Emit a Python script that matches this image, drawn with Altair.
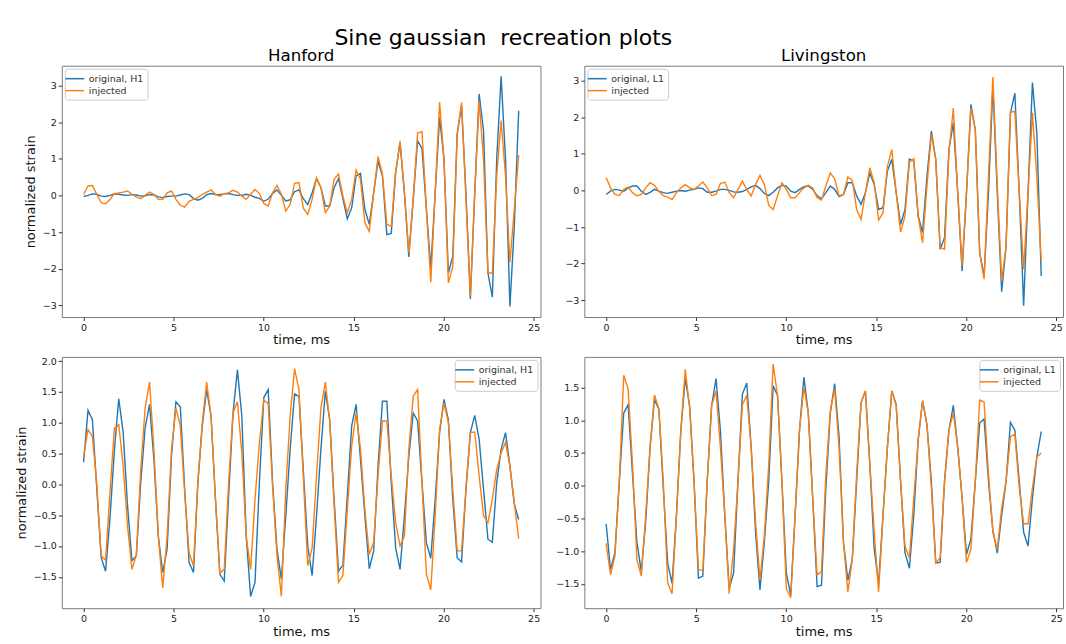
import altair as alt
import pandas as pd

# sample times (4096 Hz sampling, 100 samples) in ms
time_ms = [round(i * 1000.0 / 4096.0, 4) for i in range(100)]

# ---- Hanford, top panel ----
h1_top_orig = [
    -0.03, 0.0, 0.04, 0.03, -0.02, -0.03, 0.0, 0.04, 0.03, 0.01,
    0.0, 0.02, 0.01, -0.02, -0.01, 0.02, 0.01, -0.04, -0.06, -0.03,
    -0.02, -0.02, 0.01, 0.04, 0.02, -0.08, -0.13, -0.08, 0.02, 0.05,
    0.02, 0.02, 0.04, 0.05, 0.02, 0.0, 0.0, 0.03, 0.0, -0.05,
    -0.08, -0.16, -0.1, 0.05, 0.15, 0.0, -0.15, -0.12, 0.1, 0.15,
    -0.09, -0.25, 0.07, 0.46, 0.21, -0.29, -0.29, 0.21, 0.46, -0.09,
    -0.64, -0.34, 0.53, 0.60, -0.38, -0.79, 0.07, 0.94, 0.53, -1.07,
    -1.04, 0.62, 1.44, 0.07, -1.68, -0.11, 1.49, 1.28, -0.38, -1.98,
    0.07, 2.13, 0.99, -2.12, -1.66, 1.67, 2.45, 0.07, -2.83, 0.07,
    2.77, 1.76, -2.12, -2.78, 0.99, 3.25, 0.99, -3.03, -0.84, 2.31,
]
h1_top_inj = [
    0.03, 0.26, 0.27, 0.03, -0.2, -0.23, -0.11, 0.05, 0.07, 0.09,
    0.12, 0.03, -0.05, -0.09, 0.0, 0.09, 0.03, -0.11, -0.11, 0.07,
    0.12, -0.11, -0.27, -0.32, -0.16, -0.11, -0.06, 0.03, 0.09, 0.15,
    0.03, -0.02, 0.05, 0.07, 0.14, 0.09, -0.02, -0.11, 0.03, 0.16,
    0.05, -0.22, -0.29, 0.07, 0.27, 0.03, -0.43, -0.25, 0.33, 0.35,
    -0.35, -0.52, -0.11, 0.48, 0.21, -0.47, -0.29, 0.44, 0.58, -0.02,
    -0.47, -0.11, 0.69, 0.44, -0.75, -0.98, 0.07, 1.06, 0.58, -0.79,
    -0.84, 0.62, 1.49, 0.07, -1.57, -0.11, 1.70, 1.74, -0.38, -2.37,
    0.07, 2.54, 0.99, -2.39, -1.94, 1.67, 2.54, -0.11, -2.75, 0.07,
    2.58, 0.99, -2.12, -2.12, 0.53, 2.04, 0.53, -1.83, -0.38, 1.10,
]

# ---- Livingston, top panel ----
l1_top_orig = [
    -0.11, -0.02, 0.03, 0.01, -0.02, 0.07, 0.12, 0.12, -0.02, -0.11,
    -0.05, 0.03, -0.02, -0.06, -0.08, -0.05, -0.02, 0.0, -0.02, 0.01,
    0.03, 0.07, 0.05, -0.05, -0.05, -0.02, 0.03, 0.03, 0.0, -0.04,
    -0.05, -0.03, 0.03, 0.1, 0.14, 0.05, -0.08, -0.14, -0.05, 0.07,
    0.14, 0.12, -0.02, -0.06, 0.03, 0.1, 0.12, 0.03, -0.14, -0.23,
    -0.06, 0.12, 0.03, -0.17, -0.11, 0.21, 0.21, -0.15, -0.38, -0.06,
    0.48, 0.16, -0.52, -0.47, 0.53, 0.85, -0.06, -0.93, -0.52, 0.86,
    0.8, -0.7, -1.15, 0.39, 1.62, 0.85, -1.61, -1.29, 1.12, 1.85,
    -0.06, -2.2, -0.06, 2.35, 1.66, -1.7, -2.34, -0.06, 2.85, -0.06,
    -2.77, -1.52, 2.12, 2.66, -0.06, -3.15, -0.06, 2.95, 1.57, -2.34,
]
l1_top_inj = [
    0.35, 0.07, -0.11, -0.14, 0.03, 0.09, -0.06, -0.15, -0.11, 0.07,
    0.21, 0.14, -0.02, -0.14, -0.18, -0.25, -0.06, 0.07, 0.16, 0.07,
    0.03, 0.12, 0.23, 0.07, -0.14, -0.11, 0.19, 0.23, -0.06, -0.2,
    0.03, 0.25, 0.03, -0.15, 0.16, 0.41, 0.16, -0.41, -0.52, -0.15,
    0.21, 0.03, -0.2, -0.2, -0.06, 0.07, 0.14, 0.07, -0.2, -0.26,
    0.12, 0.48, 0.32, -0.15, -0.11, 0.37, 0.28, -0.52, -0.79, -0.06,
    0.62, 0.21, -0.81, -0.61, 0.66, 1.12, -0.06, -1.14, -0.7, 0.77,
    0.87, -0.7, -1.43, 0.12, 1.53, 0.85, -1.56, -1.61, 1.03, 2.25,
    -0.06, -2.06, -0.06, 2.25, 1.66, -1.7, -2.43, 0.39, 3.1, 0.12,
    -2.47, -1.52, 2.14, 2.16, -0.06, -2.15, -0.06, 2.12, 0.39, -1.93,
]

# ---- Hanford, bottom panel ----
h1_bot_orig = [
    0.36, 1.20, 1.05, -0.07, -1.19, -1.41, -0.55, 0.55, 1.39, 0.84,
    -0.35, -1.24, -1.16, 0.03, 0.92, 1.30, 0.4, -0.84, -1.43, -1.05,
    0.46, 1.34, 1.26, -0.08, -1.27, -1.43, 0.03, 0.95, 1.54, 1.11,
    -0.24, -1.46, -1.57, -0.19, 1.16, 1.86, 1.11, -0.84, -1.82, -1.59,
    0.03, 1.41, 1.54, 0.03, -1.05, -1.54, -0.51, 0.57, 1.47, 1.43,
    0.22, -1.0, -1.48, -0.51, 0.57, 1.51, 1.05, -0.24, -1.41, -1.31,
    -0.19, 0.95, 1.30, 0.41, -0.51, -1.37, -1.08, 0.3, 1.35, 1.35,
    0.03, -1.03, -1.38, -0.51, 0.46, 1.16, 1.03, 0.03, -0.95, -1.2,
    -0.24, 0.84, 1.38, 1.05, -0.24, -1.19, -1.26, -0.08, 0.84, 1.12,
    0.73, -0.08, -0.89, -0.94, 0.03, 0.57, 0.84, 0.3, -0.32, -0.57,
]
h1_bot_inj = [
    0.45, 0.89, 0.78, 0.0, -1.16, -1.23, -0.13, 0.91, 0.97, 0.3,
    -0.68, -1.38, -1.15, 0.24, 1.24, 1.66, 0.57, -0.84, -1.68, -0.84,
    0.57, 1.24, 0.95, -0.14, -1.11, -1.32, 0.03, 1.0, 1.66, 1.11,
    -0.24, -1.44, -1.38, 0.03, 1.16, 1.34, 0.51, -0.84, -1.38, -0.24,
    0.68, 1.37, 1.31, -0.03, -1.16, -1.82, -0.08, 1.11, 1.88, 1.54,
    0.11, -1.32, -1.03, 0.14, 1.24, 1.66, 1.03, -0.35, -1.59, -1.48,
    -0.41, 0.62, 1.16, 0.57, -0.41, -1.14, -0.94, 0.14, 1.03, 1.03,
    0.14, -0.62, -1.0, -0.84, 0.57, 1.43, 1.54, 0.03, -1.46, -1.71,
    -0.51, 0.89, 1.32, 1.0, -0.08, -1.08, -1.08, -0.08, 0.84, 0.85,
    0.14, -0.51, -0.62, -0.24, 0.24, 0.51, 0.68, 0.3, -0.3, -0.88,
]

# ---- Livingston, bottom panel ----
l1_bot_orig = [
    -0.58, -1.28, -1.02, 0.07, 1.11, 1.24, 0.18, -0.86, -1.31, -0.55,
    0.59, 1.32, 1.17, -0.03, -1.18, -1.49, -0.45, 0.85, 1.64, 1.22,
    0.07, -1.41, -1.38, 0.07, 1.22, 1.64, 0.85, -0.45, -1.57, -1.33,
    0.07, 1.40, 1.57, 0.59, -0.71, -1.59, -0.86, 0.07, 1.53, 1.38,
    0.07, -1.33, -1.67, -0.45, 0.85, 1.66, 1.11, -0.19, -1.54, -1.52,
    -0.03, 1.11, 1.56, 0.75, -0.86, -1.44, -1.13, 0.07, 1.27, 1.45,
    0.33, -0.97, -1.49, -0.45, 0.59, 1.45, 1.24, 0.07, -1.02, -1.26,
    -0.45, 0.70, 1.30, 0.93, 0.07, -1.18, -1.17, 0.07, 0.85, 1.23,
    0.59, -0.19, -1.05, -0.81, 0.07, 0.96, 1.02, 0.07, -0.68, -1.03,
    -0.45, 0.07, 0.97, 0.85, 0.07, -0.71, -0.92, -0.19, 0.44, 0.83,
]
l1_bot_inj = [
    -0.88, -1.36, -1.07, 0.07, 1.69, 1.48, 0.33, -1.13, -1.38, -0.45,
    0.59, 1.39, 1.17, 0.07, -1.48, -1.65, -0.45, 0.85, 1.78, 1.19,
    0.07, -1.28, -1.29, 0.07, 1.22, 1.45, 0.59, -0.45, -1.65, -0.97,
    0.07, 1.24, 1.38, 0.59, -0.55, -1.44, -0.76, 0.33, 1.86, 1.38,
    0.07, -1.57, -1.71, -0.45, 0.85, 1.51, 1.11, -0.19, -1.36, -1.31,
    0.18, 1.14, 1.48, 0.59, -0.86, -1.62, -1.13, 0.18, 1.27, 1.45,
    0.33, -0.71, -1.62, -0.45, 0.59, 1.45, 1.22, 0.07, -0.92, -1.10,
    -0.19, 0.70, 1.30, 0.93, -0.03, -1.18, -1.10, 0.07, 0.85, 1.11,
    0.59, -0.19, -1.17, -0.97, 0.07, 1.31, 1.28, 0.18, -0.71, -0.97,
    -0.34, 0.07, 0.75, 0.79, -0.03, -0.58, -0.58, -0.03, 0.44, 0.50,
]

x_ticks = [0, 5, 10, 15, 20, 25]
top_y_ticks = [-3, -2, -1, 0, 1, 2, 3]
bl_y_ticks = [-1.5, -1.0, -0.5, 0.0, 0.5, 1.0, 1.5, 2.0]
br_y_ticks = [-1.5, -1.0, -0.5, 0.0, 0.5, 1.0, 1.5]

BLUE = "#1f77b4"
ORANGE = "#ff7f0e"
FONT = "DejaVu Sans"


def panel(orig, inj, orig_label, ydom, yticks, yfmt, ytitle, legend_orient, title=None):
    df = pd.DataFrame({
        "time": time_ms + time_ms,
        "strain": orig + inj,
        "series": [orig_label] * len(orig) + ["injected"] * len(inj),
    })
    color = alt.Color(
        "series:N",
        scale=alt.Scale(domain=[orig_label, "injected"], range=[BLUE, ORANGE]),
        legend=alt.Legend(
            title=None, orient=legend_orient, offset=3, padding=4,
            fillColor="white", strokeColor="#cccccc", cornerRadius=3,
            symbolType="M-1.8,0H1.8", symbolSize=110, symbolStrokeWidth=1.5,
            labelFontSize=9.5, labelFont=FONT, labelColor="#333333",
            labelOffset=8, rowPadding=1,
        ),
    )
    x = alt.X(
        "time:Q",
        scale=alt.Scale(domain=[-1.21, 25.38], nice=False, zero=False),
        axis=alt.Axis(values=x_ticks, title="time, ms", format="d", titlePadding=2),
    )
    if ytitle:
        yaxis = alt.Axis(values=yticks, format=yfmt, title=ytitle, titlePadding=5)
    else:
        yaxis = alt.Axis(values=yticks, format=yfmt, title=None)
    y = alt.Y("strain:Q", scale=alt.Scale(domain=ydom, nice=False, zero=False), axis=yaxis)
    base = alt.Chart(df)
    blue = base.transform_filter(alt.datum.series == orig_label).mark_line(strokeWidth=1.4).encode(x=x, y=y, color=color)
    orange = base.transform_filter(alt.datum.series == "injected").mark_line(strokeWidth=1.4).encode(x=x, y=y, color=color)
    ch = alt.layer(blue, orange)
    if title:
        ch = ch.properties(width=480, height=252,
                           title=alt.Title(title, fontSize=16.7, font=FONT, fontWeight="normal",
                                           anchor="middle", frame="group", offset=1))
    else:
        ch = ch.properties(width=480, height=252)
    return ch


tl = panel(h1_top_orig, h1_top_inj, "original, H1", [-3.32, 3.54], top_y_ticks, "d",
           "normalized strain", "top-left", "Hanford")
tr = panel(l1_top_orig, l1_top_inj, "original, L1", [-3.46, 3.41], top_y_ticks, "d",
           None, "top-left", "Livingston")
bl = panel(h1_bot_orig, h1_bot_inj, "original, H1", [-2.01, 2.07], bl_y_ticks, ".1f",
           "normalized strain", "top-right")
br = panel(l1_bot_orig, l1_bot_inj, "original, L1", [-1.87, 1.97], br_y_ticks, ".1f",
           None, "top-right")

chart = alt.concat(
    tl, tr, bl, br, columns=2, spacing={"row": 7, "column": 13}
).resolve_scale(
    color="independent", x="independent", y="independent"
).properties(
    title=alt.Title("Sine gaussian\u00a0\u00a0recreation plots", fontSize=22, font=FONT,
                    fontWeight="normal", anchor="middle", dx=-36, offset=-2),
    padding={"left": 14, "top": 25, "right": 2, "bottom": 0},
    background="white",
).configure(
    font=FONT,
).configure_view(
    stroke="#7a7a7a", strokeWidth=1,
).configure_axis(
    grid=False, domain=False, ticks=True, tickSize=3.5, tickColor="#333333",
    labelFontSize=9.5, labelFont=FONT, labelColor="#222222", labelPadding=2,
    titleFontSize=13, titleFont=FONT, titleFontWeight="normal", titleColor="#111111",
).configure_title(
    font=FONT, fontWeight="normal", color="#000000",
)

chart.save("out.html", embed_options={"renderer": "svg", "actions": False})
